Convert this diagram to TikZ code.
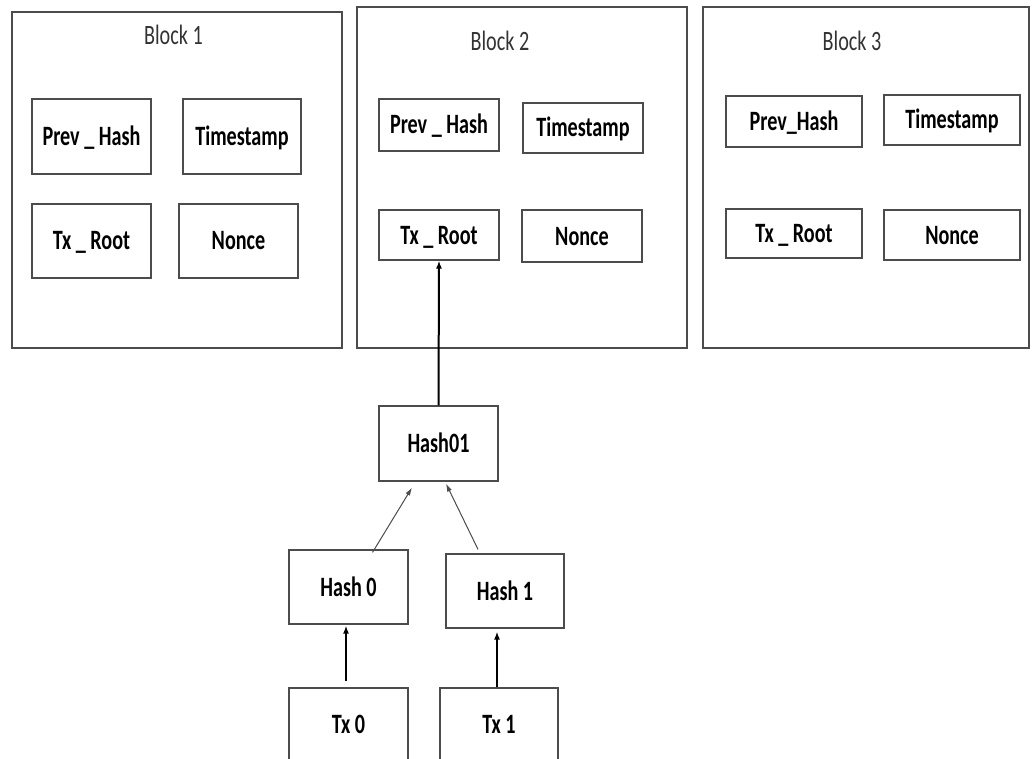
\documentclass[tikz,border=0pt]{standalone}
\usepackage{fontspec}
\setmainfont{Carlito}[FakeStretch=0.72]
\usetikzlibrary{arrows.meta,calc}
\tikzset{
  outerbox/.style={draw=black!70, line width=1.2pt, inner sep=0pt},
  itembox/.style={draw=black!70, line width=1.2pt, inner sep=0pt, text height=18pt, text depth=0pt, font=\fontsize{28}{32}\selectfont\bfseries, text=black},
  itemlabel/.style={inner sep=0pt, text height=18pt, text depth=0pt, font=\fontsize{28}{32}\selectfont\bfseries, text=black},
  blocktitle/.style={inner sep=0pt, text height=18pt, text depth=0pt, font=\fontsize{28}{32}\selectfont, text=black!80},
  thickarrow/.style={draw=black, line width=2pt, -{Latex[length=8pt,width=6pt]}},
  thinarrow/.style={draw=black!70, line width=1pt, -{Latex[length=8pt,width=5pt]}}
}
\begin{document}
\begin{tikzpicture}[x=1pt,y=-1pt]
\clip (0,0) rectangle (1035,759);
\fill[white] (0,0) rectangle (1035,759);
% Block 1
\node[outerbox, minimum width=330, minimum height=336] (blk1) at (177,180) {};
\node[blocktitle] (t1) at (173.5,36) {Block 1};
\node[itembox, minimum width=119, minimum height=75] (b1ph) at (91.5,136.5) {Prev \_ Hash};
\node[itembox, minimum width=118, minimum height=75] (b1ts) at (242,136.5) {Timestamp};
\node[itembox, minimum width=119, minimum height=74] (b1tr) at (91.5,241) {Tx \_ Root};
\node[itembox, minimum width=119, minimum height=74] (b1n) at (238.5,241) {Nonce};
% Block 2
\node[outerbox, minimum width=330, minimum height=341] (blk2) at (522,177.5) {};
\node[blocktitle] (t2) at (500,41.5) {Block 2};
\node[itembox, minimum width=120, minimum height=52] (b2ph) at (439,125) {Prev \_ Hash};
\node[itembox, minimum width=120, minimum height=50] (b2ts) at (583,128) {Timestamp};
\node[itembox, minimum width=120, minimum height=50] (b2tr) at (439,235) {Tx \_ Root};
\node[itembox, minimum width=120, minimum height=52] (b2n) at (582,236) {Nonce};
% Block 3
\node[outerbox, minimum width=326, minimum height=341] (blk3) at (866,177.5) {};
\node[blocktitle] (t3) at (852,41.5) {Block 3};
\node[itembox, minimum width=136, minimum height=51] (b3ph) at (794,121.5) {Prev\_Hash};
\node[itembox, minimum width=136, minimum height=50] (b3ts) at (952,120) {Timestamp};
\node[itembox, minimum width=136, minimum height=49] (b3tr) at (794,233.5) {Tx \_ Root};
\node[itembox, minimum width=136, minimum height=50] (b3n) at (952,235) {Nonce};
% Merkle tree
\node[itembox, minimum width=119, minimum height=75] (h01) at (438.5,443.5) {Hash01};
\node[itembox, minimum width=119, minimum height=74] (h0) at (348.5,587) {Hash 0};
\node[itembox, minimum width=118, minimum height=74] (h1) at (505,591) {Hash 1};
\node[itembox, minimum width=119, minimum height=140] (tx0) at (348.5,758) {};
\node[itembox, minimum width=118, minimum height=140] (tx1) at (499,758) {};
\node[itemlabel] (tx0l) at (348.5,724) {Tx 0};
\node[itemlabel] (tx1l) at (499,724) {Tx 1};
% connectors
\draw[thickarrow] (h01.north) -- (b2tr.south);
\draw[thinarrow] ($(h0.north)+(24,3)$) -- ($(h01.south)+(-26.5,6)$);
\draw[thinarrow] ($(h1.north)+(-27,-4)$) -- ($(h01.south)+(7.5,2)$);
\draw[thickarrow] ($(tx0.north)+(-2.5,-6)$) -- ($(h0.south)+(-2.5,1)$);
\draw[thickarrow] ($(tx1.north)+(-2,0)$) -- ($(h1.south)+(-8,3)$);
\end{tikzpicture}
\end{document}
